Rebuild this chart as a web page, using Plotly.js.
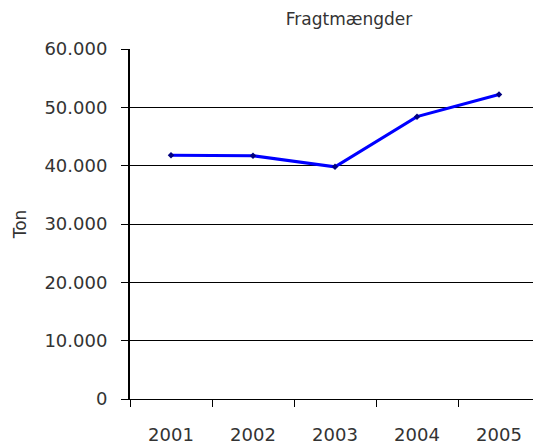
<!DOCTYPE html>
<html>
<head>
<meta charset="utf-8">
<script src="https://cdn.plot.ly/plotly-3.0.1.min.js"></script>
<style>html,body{margin:0;padding:0;background:#fff;}#chart{width:533px;height:448px;}</style>
</head>
<body>
<div id="chart"></div>
<script>
var years = ['2001', '2002', '2003', '2004', '2005'];
var tons = [41800, 41700, 39800, 48400, 52200];
var yTicks = [0, 10000, 20000, 30000, 40000, 50000, 60000];
var chartTitle = 'Fragtmængder';
var yTitle = 'Ton';

var font = 'DejaVu Sans, sans-serif';
var trace = {
  x: years,
  y: tons,
  type: 'scatter',
  mode: 'lines+markers',
  line: {color: '#0000ff', width: 3},
  marker: {symbol: 'diamond', size: 5, color: '#000080'},
  cliponaxis: false,
  hoverinfo: 'skip'
};
var layout = {
  width: 533, height: 448,
  margin: {l: 130, r: 0, t: 49, b: 49, pad: 0},
  paper_bgcolor: '#ffffff', plot_bgcolor: '#ffffff',
  separators: ',.',
  showlegend: false,
  font: {family: font, size: 18, color: '#333333'},
  title: {
    text: chartTitle,
    font: {family: font, size: 17, color: '#333333'},
    xref: 'paper', x: (349 - 130) / 403, xanchor: 'center',
    yref: 'container', y: 1 - 19 / 448, yanchor: 'middle'
  },
  xaxis: {
    type: 'category',
    range: [-0.5, -0.5 + 403 / 82],
    showline: true, linecolor: '#000000', linewidth: 1,
    ticks: 'outside', tickson: 'boundaries', ticklen: 7, tickcolor: '#000000', tickwidth: 1,
    showgrid: false, zeroline: false,
    ticklabelstandoff: 19,
    fixedrange: true
  },
  yaxis: {
    range: [0, 60000],
    tickvals: yTicks,
    tickformat: ',d',
    showline: true, linecolor: '#000000', linewidth: 2,
    ticks: 'outside', ticklen: 7, tickcolor: '#000000', tickwidth: 1,
    showgrid: true, gridcolor: '#000000', gridwidth: 1,
    zeroline: false,
    ticklabelstandoff: 10,
    title: {text: yTitle, standoff: 13, font: {family: font, size: 17, color: '#333333'}},
    fixedrange: true
  }
};
Plotly.newPlot('chart', [trace], layout, {staticPlot: true, displayModeBar: false});
</script>
</body>
</html>
